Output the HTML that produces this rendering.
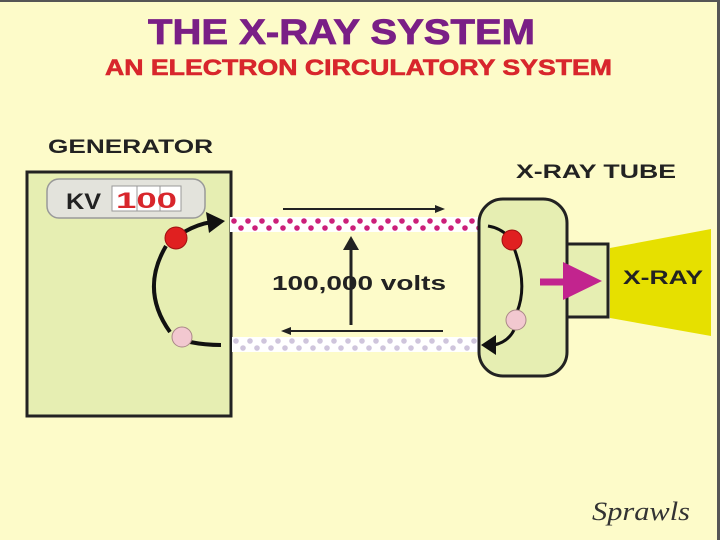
<!DOCTYPE html>
<html><head><style>html,body{margin:0;padding:0;background:#fdfbc9}svg{display:block}</style></head><body>
<svg width="720" height="540" viewBox="0 0 720 540" xmlns="http://www.w3.org/2000/svg" font-family="Liberation Sans, Arial, sans-serif" font-weight="bold">
<defs>
<pattern id="pd" x="230" y="217" width="14" height="15" patternUnits="userSpaceOnUse"><circle cx="4" cy="4" r="2.8" fill="#cc1f7a"/><circle cx="11" cy="11" r="2.8" fill="#cc1f7a"/></pattern>
<pattern id="gd" x="232" y="337" width="14" height="15" patternUnits="userSpaceOnUse"><circle cx="4" cy="4" r="2.8" fill="#cfc5dc"/><circle cx="11" cy="11" r="2.8" fill="#cfc5dc"/></pattern>
</defs>
<rect width="720" height="540" fill="#fdfbc9"/>
<line x1="0" y1="1" x2="720" y2="1" stroke="#555" stroke-width="2"/>
<line x1="718.5" y1="0" x2="718.5" y2="540" stroke="#555" stroke-width="3"/>
<text x="148" y="44" font-size="35" fill="#7a1f86" stroke="#7a1f86" stroke-width="0.8" textLength="387" lengthAdjust="spacingAndGlyphs">THE X-RAY SYSTEM</text>
<text x="105" y="75" font-size="22" fill="#d8262c" stroke="#d8262c" stroke-width="0.6" textLength="507" lengthAdjust="spacingAndGlyphs">AN ELECTRON CIRCULATORY SYSTEM</text>
<text x="48" y="153" font-size="19" fill="#222" textLength="165" lengthAdjust="spacingAndGlyphs">GENERATOR</text>
<text x="516" y="178" font-size="19" fill="#222" textLength="160" lengthAdjust="spacingAndGlyphs">X-RAY TUBE</text>
<rect x="27" y="172" width="204" height="244" fill="#e6eeb2" stroke="#222" stroke-width="3"/>
<rect x="47" y="179" width="158" height="39" rx="12" fill="#e3e3dc" stroke="#999" stroke-width="1.5"/>
<text x="66" y="209" font-size="22" fill="#222" textLength="35" lengthAdjust="spacingAndGlyphs">KV</text>
<rect x="112" y="186" width="69" height="25" fill="#fff" stroke="#999"/>
<line x1="137" y1="186" x2="137" y2="211" stroke="#999"/><line x1="160" y1="186" x2="160" y2="211" stroke="#999"/>
<text x="116" y="208" font-size="22" fill="#d8262c" textLength="61" lengthAdjust="spacingAndGlyphs">100</text>
<rect x="230" y="217" width="250" height="15" fill="#fff"/><rect x="230" y="217" width="250" height="15" fill="url(#pd)"/>
<rect x="232" y="337" width="248" height="15" fill="#fff"/><rect x="232" y="337" width="248" height="15" fill="url(#gd)"/>
<g stroke="#222" stroke-width="2" fill="#222">
<line x1="283" y1="209" x2="437" y2="209"/><polygon points="445,209 435,205 435,213" stroke="none"/>
<line x1="289" y1="331" x2="443" y2="331"/><polygon points="281,331 291,327 291,335" stroke="none"/>
</g>
<line x1="351" y1="325" x2="351" y2="248" stroke="#222" stroke-width="3"/><polygon points="351,236 343,250 359,250" fill="#222"/>
<text x="272" y="290" font-size="20" fill="#222" textLength="174" lengthAdjust="spacingAndGlyphs">100,000 volts</text>
<path d="M166,246 Q140,290 170,332" fill="none" stroke="#111" stroke-width="4"/>
<path d="M184,232 Q198,224 212,222" fill="none" stroke="#111" stroke-width="4"/>
<polygon points="225,221 206,212 209,233" fill="#111"/>
<path d="M190,342 Q205,345 221,345" fill="none" stroke="#111" stroke-width="4"/>
<circle cx="176" cy="238" r="11" fill="#e02020" stroke="#a01010"/>
<circle cx="182" cy="337" r="10" fill="#f2c8d0" stroke="#a88"/>
<rect x="479" y="199" width="88" height="177" rx="24" fill="#e6eeb2" stroke="#222" stroke-width="3"/>
<rect x="567" y="244" width="41" height="73" fill="#e6eeb2" stroke="#222" stroke-width="3"/>
<polygon points="610,248 711,229 711,336 610,318" fill="#e6e000"/>
<text x="623" y="284" font-size="19" fill="#222" textLength="80" lengthAdjust="spacingAndGlyphs">X-RAY</text>
<line x1="540" y1="282" x2="568" y2="282" stroke="#c2248e" stroke-width="7"/>
<polygon points="602,281 563,262 563,300" fill="#c2248e"/>
<path d="M488,226 Q500,228 508,236" fill="none" stroke="#111" stroke-width="3"/>
<path d="M514,248 Q528,285 517,312" fill="none" stroke="#111" stroke-width="3"/>
<path d="M514,330 Q508,342 494,345" fill="none" stroke="#111" stroke-width="3"/>
<polygon points="481,345 496,335 496,355" fill="#111"/>
<circle cx="512" cy="240" r="10" fill="#e02020" stroke="#a01010"/>
<circle cx="516" cy="320" r="10" fill="#f2c8d0" stroke="#a88"/>
<text x="592" y="520" font-size="26" font-weight="normal" font-style="italic" font-family="Liberation Serif, serif" fill="#333" textLength="98" lengthAdjust="spacingAndGlyphs">Sprawls</text>
</svg>
</body></html>
